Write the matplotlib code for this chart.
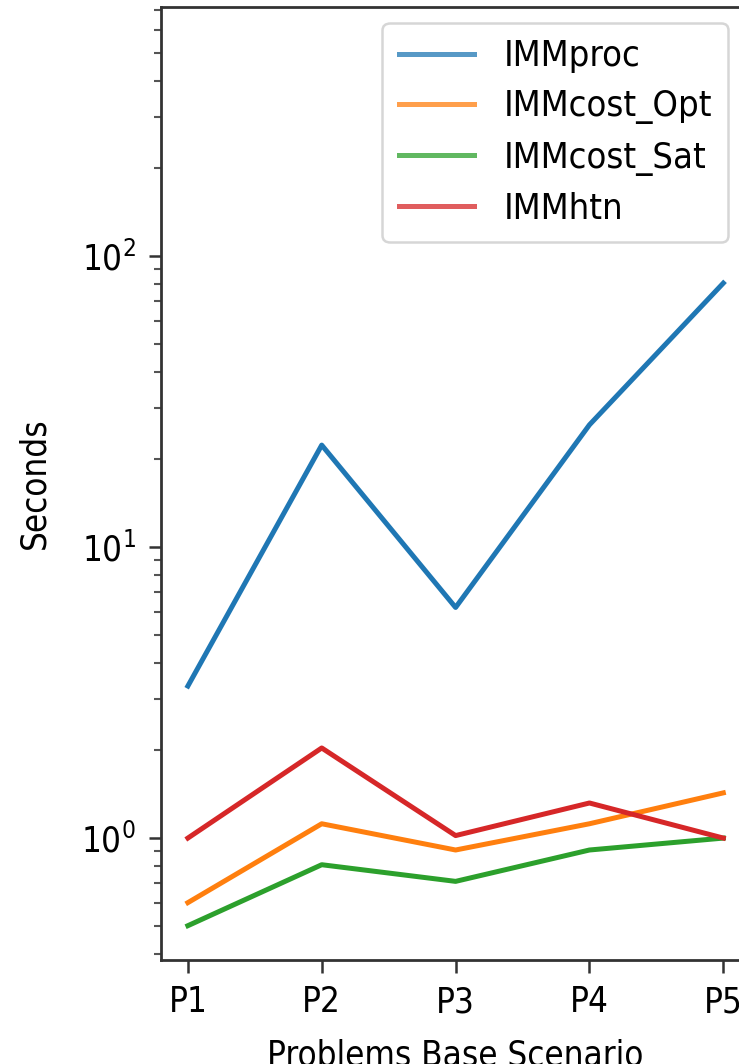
import matplotlib
matplotlib.use('Agg')
import matplotlib.pyplot as plt

plt.rcParams['font.family'] = 'DejaVu Sans'
plt.rcParams['font.stretch'] = 'condensed'

problems = ['P1', 'P2', 'P3', 'P4', 'P5']
imm_proc = [3.33, 22.4, 6.2, 26.3, 80.7]
imm_cost_opt = [0.60, 1.12, 0.91, 1.12, 1.43]
imm_cost_sat = [0.50, 0.81, 0.71, 0.91, 1.0]
imm_htn = [1.0, 2.04, 1.02, 1.32, 1.0]

fig = plt.figure(figsize=(7.39, 10.64), dpi=100)
ax = fig.add_axes([0.218, 0.0977, 0.797, 0.8957])

lw = 3.6
ax.plot(problems, imm_proc, color='#1f77b4', lw=lw, label='IMMproc')
ax.plot(problems, imm_cost_opt, color='#ff7f0e', lw=lw, label='IMMcost_Opt')
ax.plot(problems, imm_cost_sat, color='#2ca02c', lw=lw, label='IMMcost_Sat')
ax.plot(problems, imm_htn, color='#d62728', lw=lw, label='IMMhtn')

ax.set_yscale('log')
ax.set_ylim(0.381, 717)

for s in ax.spines.values():
    s.set_linewidth(2.0)
    s.set_color('#333333')
ax.tick_params(axis='both', which='major', length=9, width=1.8, labelsize=25, pad=9, color='#333333')
ax.tick_params(axis='y', which='minor', length=5, width=1.5, color='#555555')

ax.set_xlabel('Problems Base Scenario', fontsize=25, labelpad=14)
ax.set_ylabel('Seconds', fontsize=25, labelpad=22)

leg = ax.legend(loc='upper right', bbox_to_anchor=(728 / 739, 1 - 23 / 1064),
                bbox_transform=fig.transFigure, borderaxespad=0,
                fontsize=26, handlelength=2.1, handletextpad=0.8,
                labelspacing=0.45, borderpad=0.45, fancybox=True, framealpha=0.8)
leg.get_frame().set_linewidth(1.8)
leg.get_frame().set_edgecolor('#cccccc')
for h in leg.get_lines():
    h.set_alpha(0.75)

fig.savefig('out.png', dpi=100)
